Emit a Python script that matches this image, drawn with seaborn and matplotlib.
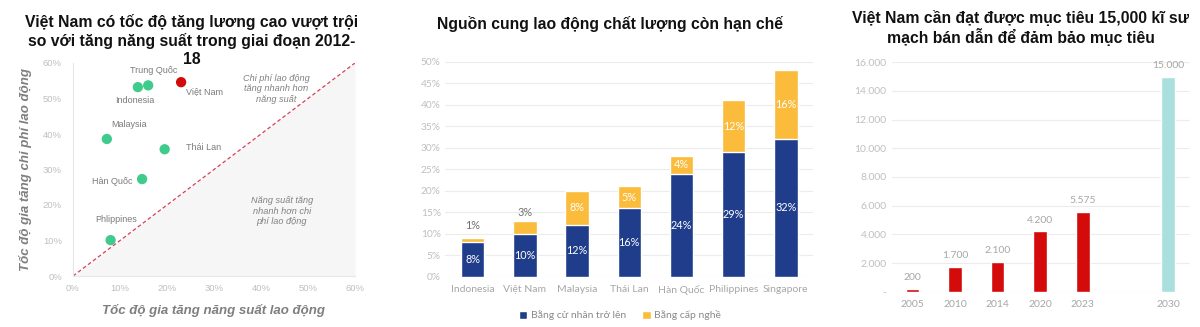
import matplotlib
matplotlib.use("Agg")
import matplotlib.pyplot as plt
import seaborn as sns
import pandas as pd
import numpy as np

# ---------------- data ----------------
# Panel 1: scatter
countries1 = ["Trung Quốc", "Indonesia", "Việt Nam", "Malaysia", "Thái Lan", "Hàn Quốc", "Phlippines"]
productivity = [16.0, 13.8, 23.0, 7.2, 19.5, 14.7, 8.0]
labor_cost = [53.7, 53.2, 54.6, 38.6, 35.7, 27.3, 10.1]
label_x = [17.2, 13.2, 27.9, 12.0, 27.7, 8.3, 9.1]
label_y = [57.8, 49.3, 51.9, 42.7, 36.3, 26.5, 15.8]

# Panel 2: stacked bars
countries2 = ["Indonesia", "Việt Nam", "Malaysia", "Thái Lan", "Hàn Quốc", "Philippines", "Singapore"]
bachelor = [8, 10, 12, 16, 24, 29, 32]
vocational = [1, 3, 8, 5, 4, 12, 16]
series2 = ["Bằng cử nhân trở lên", "Bằng cấp nghề"]

# Panel 3: engineers
years = ["2005", "2010", "2014", "2020", "2023", "2030"]
engineers = [200, 1700, 2100, 4200, 5575, 15000]

titles = [
    "Việt Nam có tốc độ tăng lương cao vượt trội\nso với tăng năng suất trong giai đoạn 2012-\n18",
    "Nguồn cung lao động chất lượng còn hạn chế",
    "Việt Nam cần đạt được mục tiêu 15,000 kĩ sư\nmạch bán dẫn để đảm bảo mục tiêu",
]

# ---------------- style ----------------
sns.set_style("white")
plt.rcParams["font.family"] = ["Liberation Sans", "DejaVu Sans"]

W, H = 1200, 327
fig = plt.figure(figsize=(W / 100, H / 100), dpi=100)


def add_ax(x0, x1, ytop, ybot):
    return fig.add_axes([x0 / W, (H - ybot) / H, (x1 - x0) / W, (ybot - ytop) / H])


def title_lines(text, xc, y_first, step):
    for k, line in enumerate(text.split("\n")):
        fig.text(xc / W, 1 - (y_first + k * step) / H, line, ha="center", va="center",
                 fontsize=11.3, fontweight="bold", color="#111111", zorder=10)


TICK_GRAY = "#bfbfbf"
LABEL_GRAY = "#7f7f7f"
GRID = "#ececec"
LATO = ["Lato", "DejaVu Sans"]

# ---------------- panel 1 ----------------
ax1 = add_ax(73, 355, 63, 276)
df1 = pd.DataFrame({"country": countries1, "x": productivity, "y": labor_cost})
df1["grp"] = np.where(df1["country"] == "Việt Nam", "vn", "other")
ax1.fill_between([0, 60], [0, 0], [0, 60], color="#f6f6f6", lw=0, zorder=0)
ax1.plot([0, 60], [0, 60], color="#d6405a", lw=0.9, ls=(0, (3, 2)), zorder=1)
sns.scatterplot(data=df1, x="x", y="y", hue="grp",
                palette={"vn": "#d10a0a", "other": "#3fcb8b"},
                s=55, edgecolor="none", legend=False, ax=ax1, zorder=3)
for c, lx, ly in zip(countries1, label_x, label_y):
    ax1.text(lx, ly, c, fontsize=6.5, color="#7a7a7a", ha="center", va="center")
ax1.text(43.2, 52.7, "Chi phí lao động\ntăng nhanh hơn\nnăng suất", fontsize=6.6,
         style="italic", color="#808080", ha="center", va="center", linespacing=1.2)
ax1.text(44.4, 18.3, "Năng suất tăng\nnhanh hơn chi\nphí lao động", fontsize=6.6,
         style="italic", color="#808080", ha="center", va="center", linespacing=1.2)
ax1.set_xlim(0, 60)
ax1.set_ylim(0, 60)
ticks = np.arange(0, 61, 10)
ax1.set_xticks(ticks)
ax1.set_yticks(ticks)
ax1.set_xticklabels([f"{t}%" for t in ticks])
ax1.set_yticklabels([f"{t}%" for t in ticks])
ax1.tick_params(length=0, labelsize=6.8, labelcolor=TICK_GRAY, pad=6)
ax1.tick_params(axis="y", pad=8)
for s in ["top", "right"]:
    ax1.spines[s].set_visible(False)
for s in ["left", "bottom"]:
    ax1.spines[s].set_color("#e6e6e6")
    ax1.spines[s].set_linewidth(0.8)
ax1.set_xlabel("Tốc độ gia tăng năng suất lao động", fontsize=9.5, fontweight="bold",
               style="italic", color=LABEL_GRAY, labelpad=8)
ax1.set_ylabel("Tốc độ gia tăng chi phí lao động", fontsize=9.5, fontweight="bold",
               style="italic", color=LABEL_GRAY, labelpad=8)
title_lines(titles[0], 191.5, 22.5, 18.7)

# ---------------- panel 2 ----------------
ax2 = add_ax(445, 813, 61.7, 276.7)
totals = [b + v for b, v in zip(bachelor, vocational)]
df2 = pd.DataFrame({"country": countries2, "bachelor": bachelor, "vocational": vocational,
                    "total": totals})
sns.barplot(data=df2, x="country", y="total", color="#fbbc3c", saturation=1, width=0.45,
            ax=ax2, zorder=2, label=series2[1])
sns.barplot(data=df2, x="country", y="bachelor", color="#1f3d8b", saturation=1, width=0.45,
            ax=ax2, zorder=3, label=series2[0])
ax2.set_ylim(0, 50)
ax2.set_xlim(-0.53, 6.52)
ax2.set_yticks(np.arange(0, 51, 5))
ax2.set_yticklabels([f"{t}%" for t in range(0, 51, 5)])
ax2.yaxis.grid(True, color=GRID, lw=0.8)
ax2.set_axisbelow(True)
sns.despine(ax=ax2, left=True, bottom=True)
ax2.tick_params(length=0, labelsize=7.3, labelcolor=TICK_GRAY, pad=3)
ax2.tick_params(axis="x", labelcolor="#a6a6a6", labelsize=7.5, pad=6)
for lab in ax2.get_xticklabels() + ax2.get_yticklabels():
    lab.set_family(LATO)
ax2.set_xlabel("")
ax2.set_ylabel("")
for i, (b, v, t) in enumerate(zip(bachelor, vocational, totals)):
    ax2.text(i, b / 2, f"{b}%", ha="center", va="center", color="white", fontsize=7.8,
             family=LATO, zorder=5)
    if v >= 4:
        ax2.text(i, b + v / 2, f"{v}%", ha="center", va="center", color="white",
                 fontsize=7.8, family=LATO, zorder=5)
    else:
        ax2.text(i, max(t + 0.6, 10.6), f"{v}%", ha="center", va="bottom", color="#707070",
                 fontsize=7.8, family=LATO, zorder=5)
handles, labels = ax2.get_legend_handles_labels()
order = [labels.index(series2[0]), labels.index(series2[1])]
leg = ax2.legend([handles[i] for i in order], [labels[i] for i in order],
                 loc="center", bbox_to_anchor=(620 / W, 1 - 315.5 / H),
                 bbox_transform=fig.transFigure, ncol=2, frameon=False,
                 handlelength=0.8, handleheight=0.8, handletextpad=0.35,
                 columnspacing=1.6, prop={"family": LATO, "size": 7.5})
for txt in leg.get_texts():
    txt.set_color("#8a8a8a")
title_lines(titles[1], 610, 24, 18.7)

# ---------------- panel 3 ----------------
ax3 = add_ax(892, 1190, 62.3, 291.7)
gap = " "
order3 = years[:-1] + [gap] + years[-1:]
df3 = pd.DataFrame({"year": years, "value": engineers})
pal3 = {y: ("#a9dfdc" if y == "2030" else "#d40b0b") for y in years}
sns.barplot(data=df3, x="year", y="value", order=order3, hue="year", palette=pal3,
            saturation=1, width=0.32, legend=False, ax=ax3, zorder=2)
ax3.set_ylim(0, 16000)
ax3.set_xlim(-0.48, 6.52)
yt = np.arange(0, 16001, 2000)
ax3.set_yticks(yt)
ax3.set_yticklabels(["-" if v == 0 else f"{v:,.0f}".replace(",", ".") for v in yt])
ax3.set_xticks([order3.index(y) for y in years])
ax3.set_xticklabels(years)
ax3.yaxis.grid(True, color=GRID, lw=0.8)
ax3.set_axisbelow(True)
sns.despine(ax=ax3, left=True, bottom=True)
ax3.tick_params(length=0, labelsize=7.5, labelcolor=TICK_GRAY, pad=4)
ax3.tick_params(axis="x", labelcolor="#a6a6a6", labelsize=7.5, pad=6)
for lab in ax3.get_xticklabels() + ax3.get_yticklabels():
    lab.set_family(LATO)
ax3.set_xlabel("")
ax3.set_ylabel("")
for y, v in zip(years, engineers):
    ax3.annotate(f"{v:,.0f}".replace(",", "."), (order3.index(y), v), xytext=(0, 5),
                 textcoords="offset points", ha="center", va="bottom", fontsize=7.5,
                 color="#a6a6a6", family=LATO)
title_lines(titles[2], 1021, 18.3, 18.5)

fig.savefig("out.png", dpi=100, facecolor="white")
